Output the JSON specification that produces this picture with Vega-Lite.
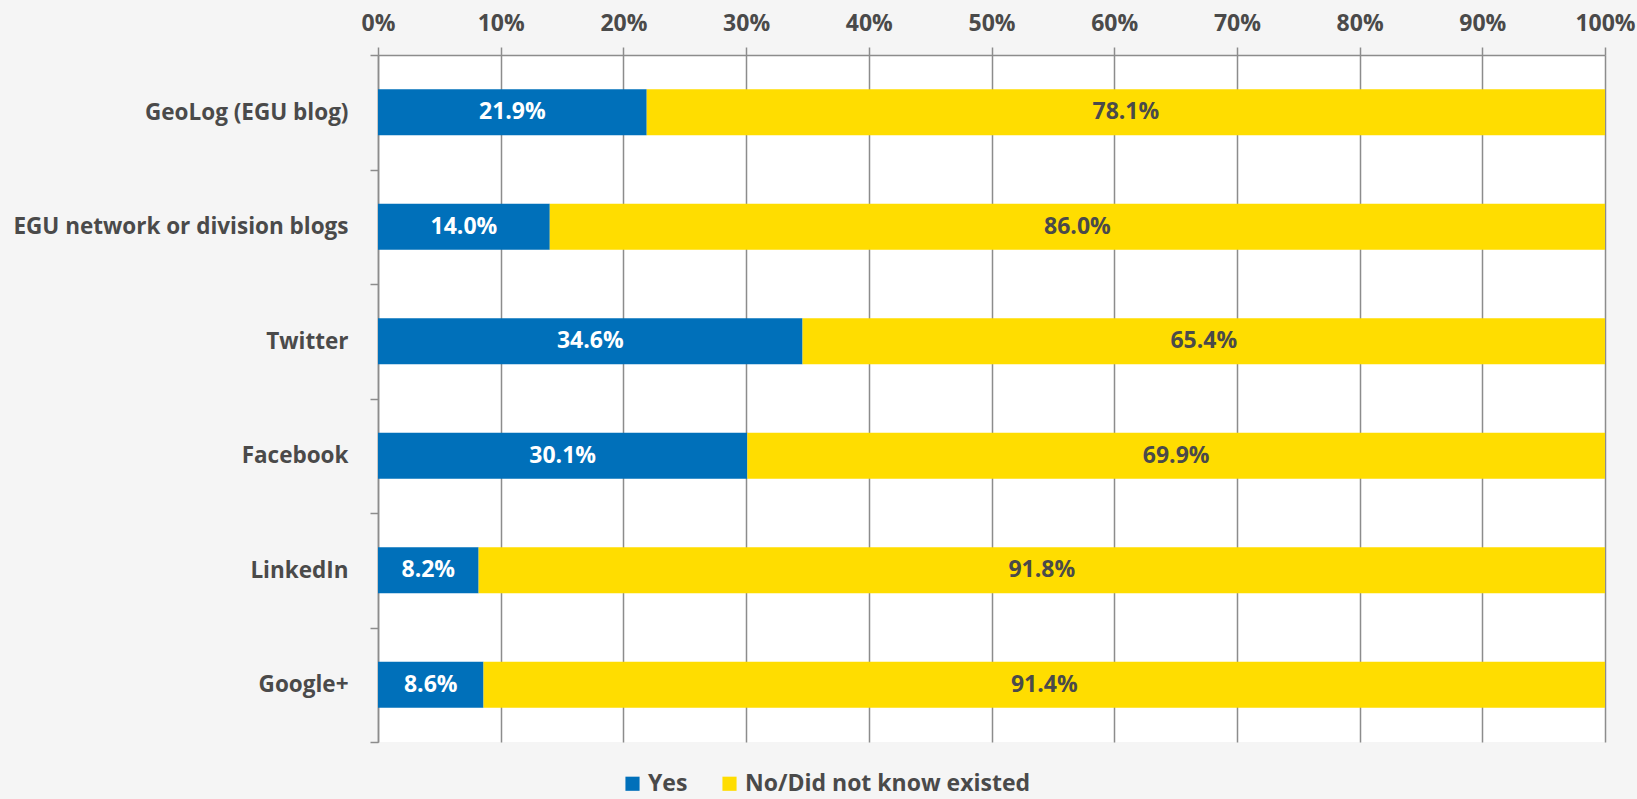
{
  "$schema": "https://vega.github.io/schema/vega-lite/v6.json",
  "autosize": {"type": "none"},
  "width": 1227,
  "height": 687,
  "padding": {"left": 378, "top": 55, "right": 32, "bottom": 57},
  "background": "#f5f5f5",
  "config": {
    "view": {"fill": "white", "stroke": null},
    "font": "Open Sans"
  },
  "data": {
    "values": [
      {"platform": "GeoLog (EGU blog)", "answer": "Yes", "share": 0.219},
      {"platform": "GeoLog (EGU blog)", "answer": "No/Did not know existed", "share": 0.781},
      {"platform": "EGU network or division blogs", "answer": "Yes", "share": 0.140},
      {"platform": "EGU network or division blogs", "answer": "No/Did not know existed", "share": 0.860},
      {"platform": "Twitter", "answer": "Yes", "share": 0.346},
      {"platform": "Twitter", "answer": "No/Did not know existed", "share": 0.654},
      {"platform": "Facebook", "answer": "Yes", "share": 0.301},
      {"platform": "Facebook", "answer": "No/Did not know existed", "share": 0.699},
      {"platform": "LinkedIn", "answer": "Yes", "share": 0.082},
      {"platform": "LinkedIn", "answer": "No/Did not know existed", "share": 0.918},
      {"platform": "Google+", "answer": "Yes", "share": 0.086},
      {"platform": "Google+", "answer": "No/Did not know existed", "share": 0.914}
    ]
  },
  "transform": [
    {"stack": "share", "groupby": ["platform"], "sort": [{"field": "answer", "order": "descending"}], "as": ["x0", "x1"]},
    {"calculate": "(datum.x0 + datum.x1) / 2", "as": "mid"}
  ],
  "encoding": {
    "y": {
      "field": "platform",
      "type": "nominal",
      "sort": ["GeoLog (EGU blog)", "EGU network or division blogs", "Twitter", "Facebook", "LinkedIn", "Google+"],
      "scale": {"paddingInner": 0, "paddingOuter": 0},
      "axis": {
        "title": null,
        "tickBand": "extent",
        "tickSize": 8,
        "tickColor": "#8c8c8c",
        "tickWidth": 1.5,
        "domainColor": "#8c8c8c",
        "domainWidth": 1.5,
        "labelPadding": 22,
        "labelLimit": 500,
        "labelFont": "Open Sans",
        "labelFontWeight": "bold",
        "labelFontSize": 22.5,
        "labelColor": "#4a4a4a",
        "grid": false
      }
    }
  },
  "layer": [
    {
      "mark": {"type": "bar", "height": {"band": 0.4}},
      "encoding": {
        "x": {
          "field": "x0",
          "type": "quantitative",
          "scale": {"domain": [0, 1], "nice": false},
          "axis": {
            "orient": "top",
            "title": null,
            "format": "%",
            "values": [0, 0.1, 0.2, 0.3, 0.4, 0.5, 0.6, 0.7, 0.8, 0.9, 1],
            "labelOverlap": false,
            "labelFlush": false,
            "grid": true,
            "gridColor": "#8c8c8c",
            "gridWidth": 1.5,
            "tickSize": 8,
            "tickColor": "#8c8c8c",
            "tickWidth": 1.5,
            "domainColor": "#8c8c8c",
            "domainWidth": 1.5,
            "labelPadding": 12,
            "labelFont": "Open Sans",
            "labelFontWeight": "bold",
            "labelFontSize": 23,
            "labelColor": "#4a4a4a",
            "zindex": 0
          }
        },
        "x2": {"field": "x1"},
        "color": {
          "field": "answer",
          "type": "nominal",
          "scale": {"domain": ["Yes", "No/Did not know existed"], "range": ["#0070ba", "#ffdd00"]},
          "legend": {
            "title": null,
            "orient": "none",
            "direction": "horizontal",
            "legendX": 243,
            "legendY": 717,
            "symbolType": "square",
            "symbolSize": 200,
            "symbolStrokeWidth": 0,
            "labelLimit": 500,
            "labelFont": "Open Sans",
            "labelFontWeight": "bold",
            "labelFontSize": 23,
            "labelColor": "#4a4a4a",
            "labelOffset": 4,
            "columnPadding": 30
          }
        }
      }
    },
    {
      "mark": {"type": "text", "font": "Open Sans", "fontWeight": "bold", "fontSize": 23, "baseline": "middle", "align": "center"},
      "encoding": {
        "x": {"field": "mid", "type": "quantitative"},
        "text": {"field": "share", "type": "quantitative", "format": ".1%"},
        "color": {
          "condition": {"test": "datum.answer === 'Yes'", "value": "white"},
          "value": "#4a4a4a"
        }
      }
    }
  ]
}
